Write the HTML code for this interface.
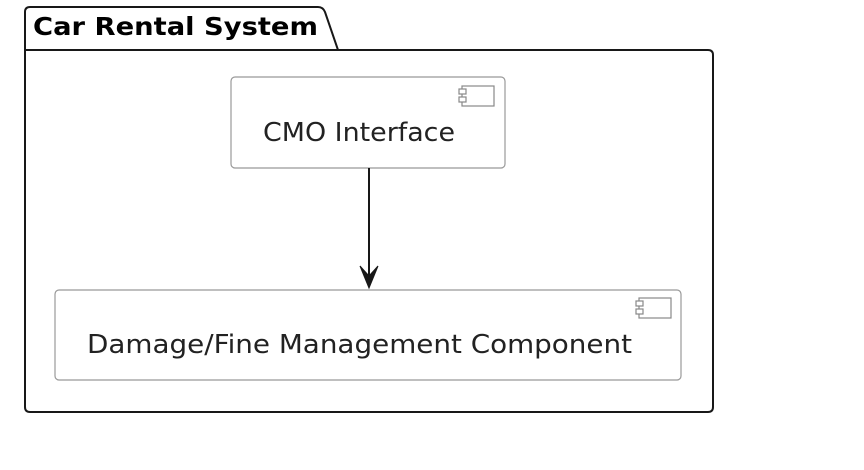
<!DOCTYPE html>
<html><head><style>html,body{margin:0;padding:0;background:#fff;}svg{display:block}</style></head>
<body>
<svg width="864" height="470" viewBox="0 0 864 470" xmlns="http://www.w3.org/2000/svg">
<path d="M25,50 L25,12 Q25,7 30,7 L318,7 Q323,7 325,12 L338,50 L708,50 Q713,50 713,55 L713,407 Q713,412 708,412 L30,412 Q25,412 25,407 Z" fill="#fff" stroke="#181818" stroke-width="2"/>
<line x1="25" y1="50" x2="338" y2="50" stroke="#181818" stroke-width="2"/>
<text x="33" y="35" font-family="DejaVu Sans, Liberation Sans, sans-serif" font-weight="bold" font-size="25" fill="#000" textLength="285" lengthAdjust="spacingAndGlyphs">Car Rental System</text>

<rect x="231" y="77" width="274" height="91" rx="4" fill="#fff" stroke="#999" stroke-width="1.2"/>
<rect x="462" y="86" width="32" height="20" fill="#fff" stroke="#888" stroke-width="1.2"/>
<rect x="459" y="89" width="7" height="5" fill="#fff" stroke="#888" stroke-width="1.2"/>
<rect x="459" y="97" width="7" height="5" fill="#fff" stroke="#888" stroke-width="1.2"/>
<text x="263" y="141" font-family="DejaVu Sans, Liberation Sans, sans-serif" font-size="26" fill="#222" textLength="192" lengthAdjust="spacingAndGlyphs">CMO Interface</text>

<line x1="369" y1="168" x2="369" y2="286" stroke="#181818" stroke-width="2"/>
<path d="M360,266 L369,288 L378,266 L369,276 Z" fill="#181818" stroke="#181818" stroke-width="1"/>

<rect x="55" y="290" width="626" height="90" rx="4" fill="#fff" stroke="#999" stroke-width="1.2"/>
<rect x="639" y="298" width="32" height="20" fill="#fff" stroke="#888" stroke-width="1.2"/>
<rect x="636" y="301" width="7" height="5" fill="#fff" stroke="#888" stroke-width="1.2"/>
<rect x="636" y="309" width="7" height="5" fill="#fff" stroke="#888" stroke-width="1.2"/>
<text x="87" y="353" font-family="DejaVu Sans, Liberation Sans, sans-serif" font-size="26" fill="#222" textLength="545" lengthAdjust="spacingAndGlyphs">Damage/Fine Management Component</text>
</svg>
</body></html>
